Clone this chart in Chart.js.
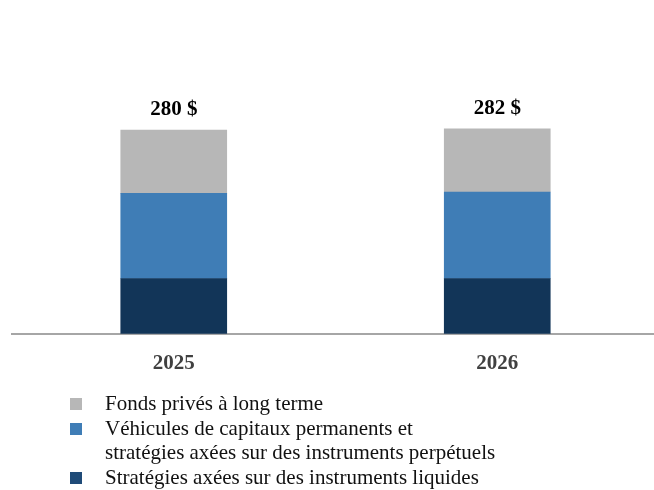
<!DOCTYPE html>
<html>
<head>
<meta charset="utf-8">
<script src="https://cdn.jsdelivr.net/npm/chart.js@4.4.1/dist/chart.umd.min.js"></script>
<style>
    body { margin: 0; background: #fff; width: 654px; height: 490px; overflow: hidden; position: relative; }
    #wrap { position: absolute; left: 0; top: 0; width: 659px; height: 399px; }
    #legend { position: absolute; left: 68px; top: 391px; font-family: "Liberation Serif", "Times New Roman", serif; font-size: 21px; color: #111; line-height: 24.7px; }
    .item { position: relative; padding-left: 37px; }
    .box { position: absolute; left: 2px; top: 7px; width: 12px; height: 12px; }
</style>
</head>
<body>
<div id="wrap"><canvas id="chart"></canvas></div>
<div id="legend"></div>
<script>
const years = ['2025', '2026'];
const liquid = [76, 76];
const permanent = [117, 119];
const privateFunds = [87, 87];
const totals = ['280 $', '282 $'];
const seriesNames = [
    'Fonds privés à long terme',
    'Véhicules de capitaux permanents et\nstratégies axées sur des instruments perpétuels',
    'Stratégies axées sur des instruments liquides'
];

const serif = '"Liberation Serif", "Times New Roman", serif';

// labels above each stacked bar
const totalLabels = {
    id: 'totalLabels',
    afterDatasetsDraw(chart) {
        const ctx = chart.ctx;
        const last = chart.getDatasetMeta(chart.data.datasets.length - 1);
        ctx.save();
        ctx.font = 'bold 21px ' + serif;
        ctx.fillStyle = '#000';
        ctx.textAlign = 'center';
        ctx.textBaseline = 'bottom';
        last.data.forEach((bar, i) => {
            ctx.fillText(totals[i], bar.x, bar.y - 10);
        });
        ctx.restore();
    }
};

const chart = new Chart(document.getElementById('chart'), {
    type: 'bar',
    data: {
        labels: years,
        datasets: [
            { label: 'liquid', data: liquid, backgroundColor: '#123558' },
            { label: 'permanent', data: permanent, backgroundColor: '#3f7db6' },
            { label: 'private', data: privateFunds, backgroundColor: '#b7b7b7' }
        ]
    },
    options: {
        responsive: true,
        maintainAspectRatio: false,
        animation: false,
        layout: { padding: { left: 12, right: 0, top: 0, bottom: 14 } },
        datasets: { bar: { barThickness: 106 } },
        plugins: {
            legend: { display: false },
            tooltip: { enabled: false }
        },
        scales: {
            x: {
                stacked: true,
                grid: { display: false },
                border: { color: '#a6a6a6', width: 2 },
                ticks: {
                    color: '#404040',
                    padding: 9,
                    font: { family: serif, size: 21, weight: 'bold' }
                }
            },
            y: {
                stacked: true,
                display: false,
                min: 0,
                max: 459
            }
        }
    },
    plugins: [totalLabels]
});

// legend, top to bottom as in the original
const legendColors = ['#b7b7b7', '#3f7db6', '#1f4b78'];
document.getElementById('legend').innerHTML = seriesNames.map((name, i) => `
    <div class="item"><span class="box" style="background:${legendColors[i]}"></span>${name.replace('\n', '<br>')}</div>
`).join('');
</script>
</body>
</html>
